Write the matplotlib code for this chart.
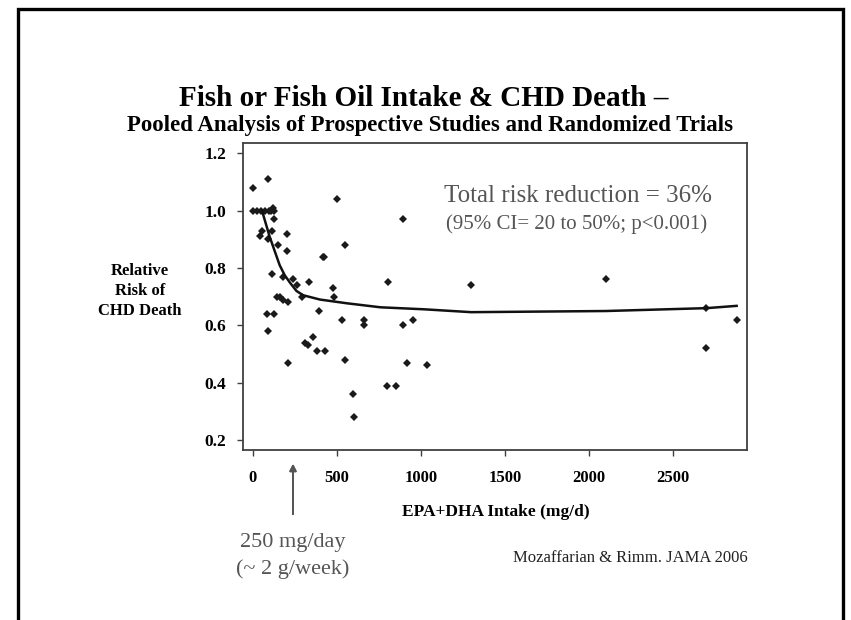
import matplotlib.pyplot as plt
from matplotlib.patches import Rectangle

# study points: EPA+DHA intake (mg/d) and relative risk of CHD death
intake = [0, 90, 0, 25, 50, 75, 95, 110, 125, 120, 127, 53, 113, 40, 90,
          206, 150, 206, 415, 425, 500, 549, 897, 113, 182, 238, 262, 335,
          476, 803, 145, 163, 180, 484, 208, 290, 87, 127, 89, 397, 533,
          663, 663, 897, 956, 311, 331, 357, 385, 430, 208, 549, 916, 1036,
          801, 851, 595, 603, 1300, 2100, 2700, 2880, 2700]
rel_risk = [1.08, 1.11, 1.0, 1.0, 1.0, 1.0, 1.0, 1.0, 1.0, 1.01, 0.97, 0.93,
            0.93, 0.91, 0.90, 0.92, 0.88, 0.86, 0.84, 0.84, 1.04, 0.88, 0.97,
            0.78, 0.77, 0.76, 0.74, 0.75, 0.73, 0.75, 0.70, 0.70, 0.69, 0.70,
            0.68, 0.70, 0.64, 0.64, 0.58, 0.65, 0.62, 0.62, 0.60, 0.60, 0.62,
            0.54, 0.53, 0.56, 0.51, 0.51, 0.47, 0.48, 0.47, 0.46, 0.39, 0.39,
            0.36, 0.28, 0.74, 0.76, 0.66, 0.62, 0.52]

# pooled dose-response curve
curve_x = [55, 70, 100, 130, 160, 190, 220, 260, 300, 400, 560, 760, 1020,
           1300, 1700, 2100, 2700, 2880]
curve_y = [1.0, 0.97, 0.91, 0.86, 0.81, 0.775, 0.75, 0.72, 0.705, 0.69,
           0.677, 0.663, 0.656, 0.646, 0.648, 0.65, 0.66, 0.668]

x_ticks = [0, 500, 1000, 1500, 2000, 2500]
y_ticks = [0.2, 0.4, 0.6, 0.8, 1.0, 1.2]

W, H = 851, 620
plt.rcParams["font.family"] = ["Liberation Serif", "DejaVu Serif"]

fig = plt.figure(figsize=(W / 100, H / 100), dpi=100)


def fx(px):
    return px / W


def fy(py):
    return 1 - py / H


edge = "#404040"
grey = "#555555"

ax = fig.add_axes([fx(242.7), fy(449.5), fx(746.7 - 242.7), (449.5 - 143.3) / H])
ax.plot(intake, rel_risk, "D", color="#1a1a1a", ms=4.4, mew=0)
ax.plot(curve_x, curve_y, color="#111111", lw=1.8)
ax.set_xlim(-60, 2940)
ax.set_ylim(0.167, 1.235)
ax.set_xticks(x_ticks)
ax.set_yticks(y_ticks)
ax.set_xticklabels([str(v) for v in x_ticks], fontweight="bold", fontsize=12)
ax.set_yticklabels([f"{v:.1f}" for v in y_ticks], fontweight="bold", fontsize=12.5)
ax.tick_params(length=4, color=edge, width=1)
ax.tick_params(axis="x", pad=11)
ax.tick_params(axis="y", pad=8)
for s in ax.spines.values():
    s.set_color(edge)
    s.set_linewidth(1.3)

fig.text(fx(496), fy(512), "EPA+DHA Intake (mg/d)", ha="center",
         va="center", fontweight="bold", fontsize=12.5)

fig.text(fx(140), fy(291), "Relative\nRisk of\nCHD Death", ha="center",
         va="center", fontweight="bold", fontsize=12, linespacing=1.32)

fig.text(fx(424), fy(98), "Fish or Fish Oil Intake & CHD Death \u2013",
         ha="center", va="center", fontweight="bold", fontsize=21)
fig.text(fx(430), fy(125),
         "Pooled Analysis of Prospective Studies and Randomized Trials",
         ha="center", va="center", fontweight="bold", fontsize=16.5)

fig.text(fx(578), fy(196), "Total risk reduction = 36%", ha="center",
         va="center", fontsize=18, color=grey)
fig.text(fx(577), fy(224), "(95% CI= 20 to 50%; p<0.001)", ha="center",
         va="center", fontsize=15, color=grey)

fig.text(fx(293), fy(556), "250 mg/day\n(~ 2 g/week)", ha="center",
         va="center", fontsize=16, color=grey, linespacing=1.45)
fig.text(fx(630), fy(558), "Mozaffarian & Rimm. JAMA 2006", ha="center",
         va="center", fontsize=12, color="#222222")

fig.add_artist(plt.annotate("", xy=(fx(293), fy(461)), xytext=(fx(293), fy(517)),
                            xycoords="figure fraction",
                            arrowprops=dict(arrowstyle="-|>", color=grey,
                                            lw=1.3, mutation_scale=10)))

fig.add_artist(Rectangle((fx(18), -0.1), fx(843 - 18), fy(9) + 0.1,
                         transform=fig.transFigure, fill=False,
                         edgecolor="black", lw=2.4))

fig.savefig("out.png", dpi=100)
